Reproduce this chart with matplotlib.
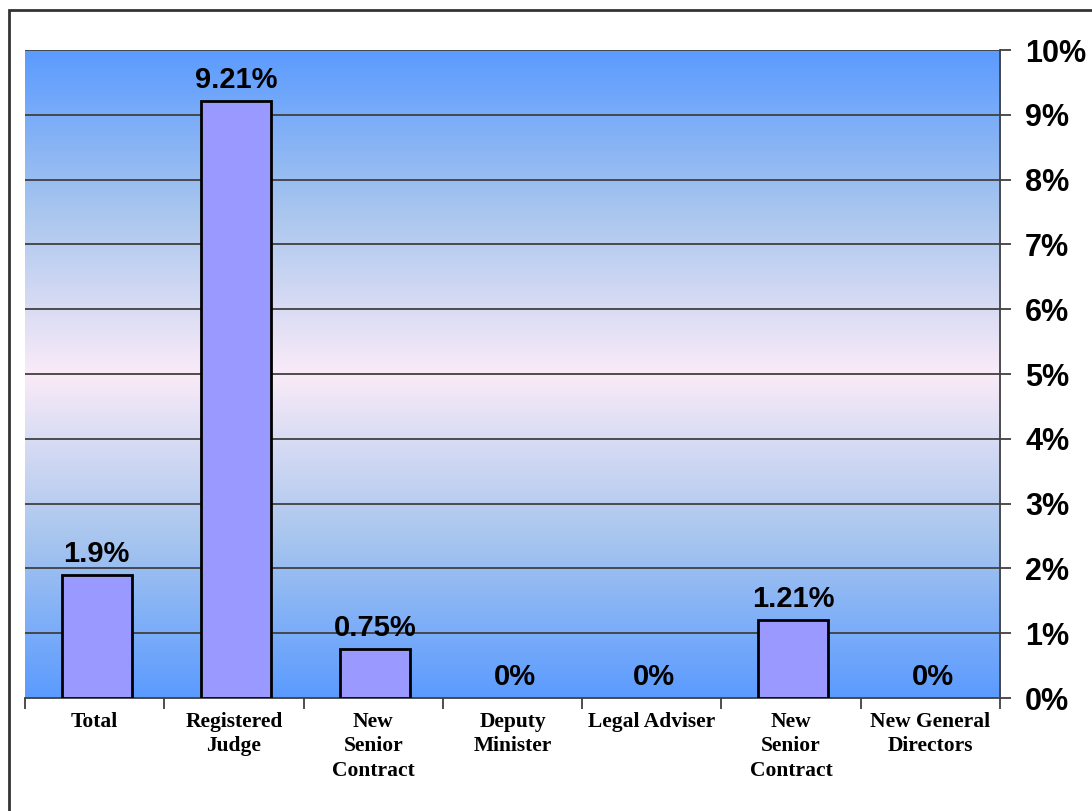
import numpy as np
import matplotlib
matplotlib.use('Agg')
import matplotlib.pyplot as plt
from matplotlib.colors import LinearSegmentedColormap
from matplotlib.patches import Rectangle

categories = ['Total', 'Registered\nJudge', 'New\nSenior\nContract', 'Deputy\nMinister',
              'Legal Adviser', 'New\nSenior\nContract', 'New General\nDirectors']
values = [1.9, 9.21, 0.75, 0, 0, 1.21, 0]
labels = ['1.9%', '9.21%', '0.75%', '0%', '0%', '1.21%', '0%']
yticks = list(range(0, 11))

fig = plt.figure(figsize=(10.92, 8.11), dpi=100)
ax = fig.add_axes([25/1092, 1 - 698/811, 975/1092, 648/811])

# background gradient: blue - pinkish white - blue
cmap = LinearSegmentedColormap.from_list('bg', ['#5B9BFF', '#A9C6EE', '#FAEBF8', '#A9C6EE', '#5B9BFF'])
grad = np.linspace(0, 1, 256).reshape(-1, 1)
n = len(categories)
ax.imshow(grad, aspect='auto', cmap=cmap, extent=[-0.5, n - 0.5, 0, 10], zorder=0)

x = np.arange(n)
bars = ax.bar(x + 0.015, values, width=0.5, color='#9999FF', edgecolor='black', linewidth=2, zorder=3)
for b, v in zip(bars, values):
    if v == 0:
        b.set_linewidth(0)  # no outline for empty bars

for xi, v, lab in zip(x, values, labels):
    ax.annotate(lab, (xi + 0.015, v), xytext=(0, 5), textcoords='offset points', ha='center', va='bottom',
                fontsize=21, fontweight='bold', family='Liberation Sans', zorder=4)

ax.set_xlim(-0.5, n - 0.5)
ax.set_ylim(0, 10)
ax.yaxis.tick_right()
ax.set_yticks(yticks)
ax.set_yticklabels([f'{t}%' for t in yticks], fontsize=22, fontweight='bold', family='Liberation Sans')
ax.tick_params(axis='y', length=8, width=1.3, color='#404040', pad=10)
for t in yticks[1:]:
    ax.axhline(t, color='#404040', linewidth=1.3, zorder=1)

ax.set_xticks(x)
ax.set_xticklabels(categories, fontsize=15.5, fontweight='bold', family='Liberation Serif', linespacing=1.3)
ax.set_xticks(np.arange(-0.5, n, 1), minor=True)
ax.tick_params(axis='x', which='major', length=0, pad=10)
ax.tick_params(axis='x', which='minor', length=8, width=1.3, color='#404040')

for s in ['top', 'left']:
    ax.spines[s].set_visible(False)
ax.spines['bottom'].set_color('#404040')
ax.spines['bottom'].set_linewidth(1.3)
ax.spines['right'].set_color('#404040')
ax.spines['right'].set_linewidth(1.3)

# outer frame
fig.patches.append(Rectangle((9/1092, -0.05), 1.1, 1 - 10/811 + 0.05, transform=fig.transFigure,
                             fill=False, edgecolor='#333333', linewidth=2))

fig.savefig('out.png', dpi=100)
